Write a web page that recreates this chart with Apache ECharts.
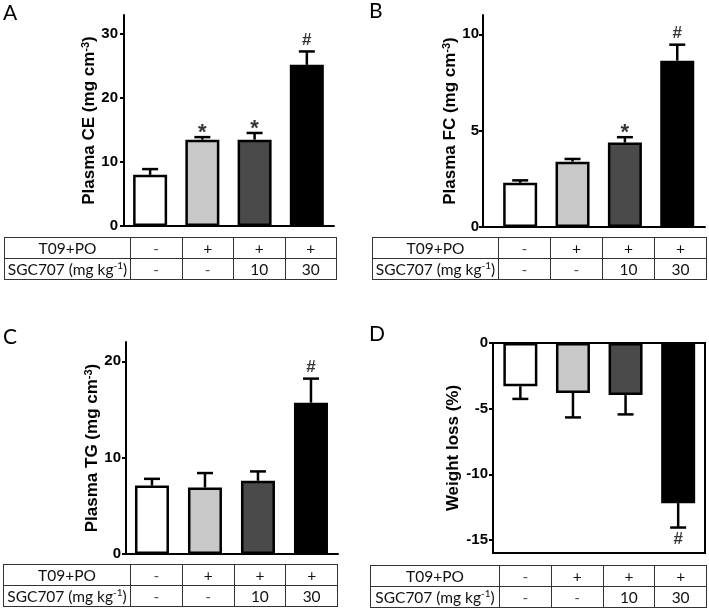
<!DOCTYPE html>
<html>
<head>
<meta charset="utf-8">
<script src="https://cdn.jsdelivr.net/npm/echarts@6/dist/echarts.min.js"></script>
<style>
  body { margin: 0; background: #fff; }
  #wrap { position: relative; width: 709px; height: 611px; }
  #chart { position: absolute; left: 0; top: 0; width: 709px; height: 611px; }
  .tbl {
    position: absolute;
    border-collapse: collapse;
    table-layout: fixed;
    font-family: Lato, "Open Sans", sans-serif;
    font-size: 15.5px;
    color: #111;
  }
  .tbl td {
    border: 1px solid #333;
    text-align: center;
    padding: 0;
    height: 20px;
    line-height: 18px;
    white-space: nowrap;
  }
  .tbl sup { font-size: 10px; line-height: 0; }
  .tbl .dash { color: #555; }
</style>
</head>
<body>
<div id="wrap">
  <div id="chart"></div>
</div>
<script>
// groups: control, T09+PO, T09+PO + SGC707 10, T09+PO + SGC707 30
var groups = [0, 1, 2, 3];
var fills = ['#ffffff', '#c8c8c8', '#4a4a4a', '#000000'];

// table rows under every panel
var rowT09 = ['-', '+', '+', '+'];
var rowSGC = ['-', '-', '10', '30'];

// A: plasma CE (mean, sem)
var ceMean = [8.0, 13.5, 13.5, 25.2];
var ceSem = [0.9, 0.4, 1.05, 2.1];
var ceMarks = ['', '*', '*', '#'];
var ceTicks = [0, 10, 20, 30];

// B: plasma FC
var fcMean = [2.29, 3.39, 4.38, 8.63];
var fcSem = [0.13, 0.14, 0.28, 0.83];
var fcMarks = ['', '', '*', '#'];
var fcTicks = [0, 5, 10];

// C: plasma TG
var tgMean = [7.1, 6.9, 7.6, 15.7];
var tgSem = [0.7, 1.5, 0.97, 2.5];
var tgMarks = ['', '', '', '#'];
var tgTicks = [0, 10, 20];

// D: weight loss
var wlMean = [-3.29, -3.8, -3.97, -12.2];
var wlSem = [0.97, 1.87, 1.47, 1.86];
var wlMarks = ['', '', '', '#'];
var wlTicks = [0, -5, -10, -15];

var black = '#000';
var axisFont = 'Liberation Sans, Arial, sans-serif';

var panels = [
  { letter: 'A', mean: ceMean, sem: ceSem, marks: ceMarks, ticks: ceTicks,
    name: '{t|Plasma CE (mg cm}{s|-3}{t|)}', yMin: 0, yMax: 33,
    grid: { left: 124, top: 15, width: 210, height: 211 }, xMin: -0.5, xMax: 3.52,
    nameGap: 22, labelMargin: 6, title: { left: 3, top: 3 },
    table: { left: 4, top: 237, width: 332, first: 126 } },
  { letter: 'B', mean: fcMean, sem: fcSem, marks: fcMarks, ticks: fcTicks,
    name: '{t|Plasma FC (mg cm}{s|-3}{t|)}', yMin: 0, yMax: 11,
    grid: { left: 483, top: 15, width: 222, height: 212 }, xMin: -0.71, xMax: 3.53,
    nameGap: 15, labelMargin: 4, title: { left: 369, top: 1 },
    table: { left: 372, top: 237, width: 334, first: 126 } },
  { letter: 'C', mean: tgMean, sem: tgSem, marks: tgMarks, ticks: tgTicks,
    name: '{t|Plasma TG (mg cm}{s|-3}{t|)}', yMin: 0, yMax: 22,
    grid: { left: 126, top: 342, width: 212, height: 212 }, xMin: -0.49, xMax: 3.51,
    nameGap: 25, labelMargin: 5, title: { left: 3, top: 327 },
    table: { left: 3, top: 564, width: 334, first: 127 } },
  { letter: 'D', mean: wlMean, sem: wlSem, marks: wlMarks, ticks: wlTicks,
    name: '{t|Weight loss (%)}', yMin: -16, yMax: 0,
    grid: { left: 493, top: 343, width: 212, height: 210 }, xMin: -0.52, xMax: 3.51,
    nameGap: 31, labelMargin: 5, title: { left: 369, top: 324 },
    table: { left: 370, top: 565, width: 336, first: 129 } }
];

var option = {
  animation: false,
  title: [], grid: [], xAxis: [], yAxis: [], series: []
};

panels.forEach(function (p, idx) {
  var boxed = p.letter === 'D';
  option.title.push({
    text: p.letter, left: p.title.left, top: p.title.top, padding: 0,
    textStyle: { fontFamily: 'Lato, sans-serif', fontSize: 21, fontWeight: 'normal', color: black }
  });
  option.grid.push({
    left: p.grid.left, top: p.grid.top, width: p.grid.width, height: p.grid.height,
    show: boxed, borderColor: black, borderWidth: 2
  });
  option.xAxis.push({
    type: 'value', gridIndex: idx, min: p.xMin, max: p.xMax,
    axisLine: { show: !boxed, onZero: false, lineStyle: { color: black, width: 2 } },
    axisTick: { show: false }, axisLabel: { show: false }, splitLine: { show: false }
  });
  option.yAxis.push({
    type: 'value', gridIndex: idx, min: p.yMin, max: p.yMax,
    name: p.name, nameLocation: 'middle', nameRotate: 90, nameGap: p.nameGap,
    nameTextStyle: {
      rich: {
        t: { fontFamily: axisFont, fontSize: 17, fontWeight: 'bold', color: black },
        s: { fontFamily: axisFont, fontSize: 11, fontWeight: 'bold', color: black, verticalAlign: 'top' }
      }
    },
    axisLine: { show: true, onZero: false, lineStyle: { color: black, width: 2 } },
    axisTick: { show: true, length: 4, customValues: p.ticks, lineStyle: { color: black, width: 2 } },
    axisLabel: { customValues: p.ticks, margin: p.labelMargin, fontFamily: axisFont,
      fontSize: 15, fontWeight: 'bold', color: black },
    splitLine: { show: false }
  });

  option.series.push({
    type: 'bar', xAxisIndex: idx, yAxisIndex: idx, barWidth: 34,
    data: groups.map(function (g) {
      return { value: [g, p.mean[g]], itemStyle: { color: fills[g] } };
    }),
    itemStyle: { borderColor: black, borderWidth: 2.5 },
    z: 2
  });

  // one-sided error bars (away from zero)
  option.series.push({
    type: 'custom', xAxisIndex: idx, yAxisIndex: idx,
    encode: { x: 0, y: [1, 2] },
    data: groups.map(function (g) {
      var m = p.mean[g];
      return [g, m, m + (m < 0 ? -1 : 1) * p.sem[g]];
    }),
    renderItem: function (params, api) {
      var a = api.coord([api.value(0), api.value(1)]);
      var b = api.coord([api.value(0), api.value(2)]);
      var st = { stroke: black, lineWidth: 2.5 };
      return {
        type: 'group',
        children: [
          { type: 'line', shape: { x1: a[0], y1: a[1], x2: b[0], y2: b[1] }, style: st },
          { type: 'line', shape: { x1: b[0] - 8, y1: b[1], x2: b[0] + 8, y2: b[1] }, style: st }
        ]
      };
    },
    z: 3
  });

  // significance marks
  var markData = [];
  groups.forEach(function (g) {
    var mk = p.marks[g];
    if (!mk) return;
    var m = p.mean[g];
    var end = m + (m < 0 ? -1 : 1) * p.sem[g];
    var star = mk === '*';
    markData.push({
      value: [g, end],
      label: {
        show: true, formatter: mk,
        position: m < 0 ? 'bottom' : 'top',
        distance: m < 0 ? 3 : (star ? -7 : 3),
        fontFamily: axisFont, fontWeight: 'bold', color: black,
        fontSize: star ? 22 : 17
      }
    });
  });
  option.series.push({
    type: 'scatter', xAxisIndex: idx, yAxisIndex: idx,
    symbolSize: 0, data: markData, z: 4, silent: true
  });
});

var chart = echarts.init(document.getElementById('chart'));
chart.setOption(option);

// tables under the panels
function buildTable(p) {
  var t = document.createElement('table');
  t.className = 'tbl';
  t.style.left = p.table.left + 'px';
  t.style.top = p.table.top + 'px';
  t.style.width = p.table.width + 'px';
  var rest = (p.table.width - p.table.first) / 4;
  var cg = '<colgroup><col style="width:' + p.table.first + 'px">';
  groups.forEach(function () { cg += '<col style="width:' + rest + 'px">'; });
  cg += '</colgroup>';
  var rows = [['T09+PO', rowT09], ['SGC707 (mg kg<sup>-1</sup>)', rowSGC]];
  var html = cg;
  rows.forEach(function (r) {
    html += '<tr><td>' + r[0] + '</td>';
    r[1].forEach(function (v) {
      html += '<td' + (v === '-' ? ' class="dash"' : '') + '>' + v + '</td>';
    });
    html += '</tr>';
  });
  t.innerHTML = html;
  document.getElementById('wrap').appendChild(t);
}
panels.forEach(buildTable);
</script>
</body>
</html>
